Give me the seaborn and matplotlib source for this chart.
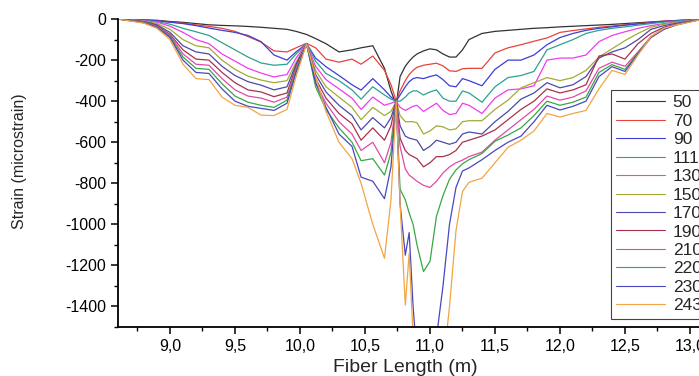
import numpy as np
import pandas as pd
import matplotlib
matplotlib.use("Agg")
import matplotlib.pyplot as plt
import seaborn as sns
from matplotlib.ticker import MultipleLocator, FixedLocator, FixedFormatter

# fiber position (m), shared by every curve
x_len = [8.6, 8.8, 8.9, 9.0, 9.1, 9.2, 9.3, 9.4, 9.5, 9.6, 9.7, 9.8, 9.9, 9.97, 10.05,
         10.12, 10.2, 10.3, 10.4, 10.47, 10.56, 10.65, 10.7, 10.74,
         10.77, 10.81, 10.84, 10.87, 10.9, 10.95, 11.0, 11.05, 11.1, 11.15, 11.2, 11.25, 11.3,
         11.4, 11.5, 11.6, 11.7, 11.8, 11.9, 12.0, 12.1, 12.2, 12.3, 12.4, 12.5, 12.6, 12.7, 12.8, 12.9, 13.0, 13.1]

# strain (microstrain) for each load
s50 = [0, -4, -6, -12, -16, -22, -28, -31, -33, -36, -40, -45, -50, -60, -75,
       -95, -120, -160, -150, -140, -130, -240, -350, -420,
       -280, -230, -205, -185, -170, -155, -145, -150, -170, -185, -185, -150, -100,
       -70, -60, -55, -50, -45, -42, -38, -35, -32, -29, -26, -22, -18, -14, -10, -7, -4, 0]
s70 = [0, -5, -8, -15, -20, -28, -36, -45, -60, -85, -112, -155, -160, -140, -118,
       -140, -195, -210, -195, -220, -180, -250, -320, -400,
       -350, -300, -270, -250, -235, -225, -220, -215, -228, -252, -255, -242, -240,
       -240, -165, -140, -125, -108, -92, -65, -56, -48, -40, -34, -28, -22, -16, -11, -7, -4, 0]
s90 = [0, -5, -8, -15, -22, -32, -44, -55, -65, -80, -110, -175, -200, -160, -120,
       -190, -232, -275, -320, -346, -290, -345, -380, -400,
       -370, -330, -305, -290, -285, -290, -280, -272, -295, -325, -330, -290, -300,
       -325, -245, -200, -200, -175, -125, -90, -70, -55, -45, -38, -30, -24, -18, -12, -8, -4, 0]
s111 = [0, -7, -12, -25, -45, -62, -80, -115, -150, -185, -214, -225, -220, -170, -120,
        -205, -265, -300, -345, -390, -330, -370, -390, -400,
        -400, -380, -360, -350, -350, -370, -355, -345, -385, -400, -400, -350, -360,
        -405, -330, -285, -275, -255, -150, -125, -100, -70, -55, -45, -38, -30, -22, -15, -10, -5, 0]
s130 = [0, -8, -15, -35, -65, -100, -120, -170, -205, -240, -263, -282, -270, -190, -120,
        -230, -295, -340, -385, -440, -380, -420, -410, -400,
        -430, -445, -435, -425, -420, -450, -430, -410, -445, -465, -460, -410, -420,
        -460, -385, -345, -340, -325, -200, -190, -190, -175, -110, -80, -62, -45, -32, -22, -14, -7, 0]
s150 = [0, -10, -22, -50, -100, -130, -140, -200, -245, -278, -297, -310, -300, -210, -120,
        -250, -330, -380, -430, -490, -430, -470, -450, -400,
        -470, -500, -500, -500, -505, -560, -545, -520, -525, -540, -535, -500, -495,
        -495, -440, -395, -335, -310, -285, -300, -285, -250, -185, -145, -105, -70, -40, -25, -16, -8, 0]
s170 = [0, -12, -28, -65, -130, -160, -170, -230, -275, -305, -322, -345, -330, -220, -120,
        -270, -355, -420, -470, -540, -480, -530, -480, -400,
        -520, -570, -580, -585, -590, -640, -620, -590, -600, -610, -600, -560, -550,
        -560, -500, -450, -390, -360, -310, -335, -320, -280, -190, -160, -140, -100, -50, -32, -20, -10, 0]
s190 = [0, -14, -32, -75, -150, -195, -200, -260, -310, -345, -355, -378, -360, -230, -120,
        -290, -385, -460, -510, -590, -530, -590, -520, -400,
        -580, -640, -660, -670, -680, -720, -700, -670, -670, -660, -640, -600, -590,
        -570, -540, -490, -440, -400, -340, -360, -345, -320, -180, -170, -195, -120, -70, -40, -24, -12, 0]
s210 = [0, -15, -35, -80, -170, -220, -225, -290, -345, -375, -385, -405, -380, -240, -120,
        -310, -410, -500, -560, -640, -600, -700, -600, -400,
        -620, -730, -760, -775, -790, -810, -820, -790, -750, -720, -700, -687, -670,
        -648, -590, -540, -490, -440, -375, -395, -380, -350, -240, -210, -230, -160, -85, -45, -25, -12, 0]
s220 = [0, -16, -38, -85, -185, -240, -245, -315, -375, -405, -420, -430, -395, -250, -120,
        -330, -440, -530, -600, -690, -680, -760, -650, -400,
        -830, -880, -945, -1000, -1100, -1230, -1180, -960, -860, -780, -735, -705, -685,
        -655, -595, -565, -530, -470, -400, -420, -405, -380, -260, -222, -245, -165, -88, -48, -27, -13, 0]
s230 = [0, -18, -40, -90, -200, -260, -265, -340, -400, -425, -435, -445, -410, -260, -120,
        -310, -430, -560, -620, -770, -790, -875, -720, -400,
        -900, -1150, -1040, -1400, -1650, -1700, -1650, -1550, -1300, -1000, -820, -740, -725,
        -685, -640, -600, -570, -500, -420, -443, -425, -400, -280, -232, -255, -170, -90, -50, -28, -13, 0]
s243 = [0, -20, -45, -100, -220, -290, -295, -380, -420, -430, -468, -470, -440, -280, -120,
        -280, -450, -600, -680, -800, -1000, -1165, -880, -400,
        -900, -1393, -1140, -1550, -1700, -1750, -1750, -1750, -1700, -1400, -1030, -840, -795,
        -775, -700, -625, -590, -545, -460, -477, -460, -445, -340, -250, -270, -175, -85, -45, -28, -15, 0]

labels = ["50", "70", "90", "111", "130", "150", "170", "190", "210", "220", "230", "243"]
colors = ["#333333", "#e8433a", "#3d3dd8", "#2fa090", "#ee3cee", "#a3ab35",
          "#4a4aa8", "#a8324e", "#e04aa6", "#36a845", "#4848bf", "#f2a445"]
series = [s50, s70, s90, s111, s130, s150, s170, s190, s210, s220, s230, s243]

xticks = [9.0, 9.5, 10.0, 10.5, 11.0, 11.5, 12.0, 12.5, 13.0]
xtick_labels = ["9,0", "9,5", "10,0", "10,5", "11,0", "11,5", "12,0", "12,5", "13,0"]
yticks = [-1400, -1200, -1000, -800, -600, -400, -200, 0]
ytick_labels = ["-1400", "-1200", "-1000", "-800", "-600", "-400", "-200", "0"]

rows = []
for lab, ys in zip(labels, series):
    for xv, yv in zip(x_len, ys):
        rows.append((xv, yv, lab))
df = pd.DataFrame(rows, columns=["length", "strain", "load"])

sns.set_style("ticks")
plt.rcParams["font.family"] = ["Liberation Sans", "DejaVu Sans"]

fig = plt.figure(figsize=(6.99, 3.76), dpi=100)
ax = fig.add_axes([0.1688, 0.1303, 0.8555, 0.819])

sns.lineplot(data=df, x="length", y="strain", hue="load", hue_order=labels,
             palette=dict(zip(labels, colors)), sort=False, estimator=None,
             lw=0.9, ax=ax)

ax.set_xlim(8.6, 13.2)
ax.set_ylim(-1500, 0)
ax.xaxis.set_major_locator(FixedLocator(xticks))
ax.xaxis.set_major_formatter(FixedFormatter(xtick_labels))
ax.yaxis.set_major_locator(FixedLocator(yticks))
ax.yaxis.set_major_formatter(FixedFormatter(ytick_labels))
ax.xaxis.set_minor_locator(MultipleLocator(0.25))
ax.yaxis.set_minor_locator(MultipleLocator(100))

for s in ["top", "right"]:
    ax.spines[s].set_visible(False)
for s in ["left", "bottom"]:
    ax.spines[s].set_linewidth(1.3)
    ax.spines[s].set_color("black")
ax.tick_params(which="major", direction="out", length=5, width=1.1, labelsize=11.5, colors="black")
ax.tick_params(which="minor", direction="out", length=3, width=1.0, colors="black")

ax.set_xlabel("Fiber Length (m)", fontsize=14)
ax.set_ylabel("Strain (microstrain)", fontsize=11.5)
ax.xaxis.set_label_coords(0.48, -0.105)
ax.yaxis.set_label_coords(-0.152, 0.54)

# legend sits at the right edge and runs past it, as in the original export
h, l = ax.get_legend_handles_labels()
ax.legend(h, l, loc="upper left", bbox_to_anchor=(611 / 699, 1 - 90 / 376),
          bbox_transform=fig.transFigure, borderaxespad=0, borderpad=0.3,
          fontsize=12.5, labelspacing=0.19, handlelength=2.8, handletextpad=0.45,
          frameon=True, fancybox=False, framealpha=1, edgecolor="#444444")
ax.get_legend().get_frame().set_linewidth(0.8)
for line in ax.get_legend().get_lines():
    line.set_linewidth(0.8)

fig.savefig("out.png", dpi=100)
